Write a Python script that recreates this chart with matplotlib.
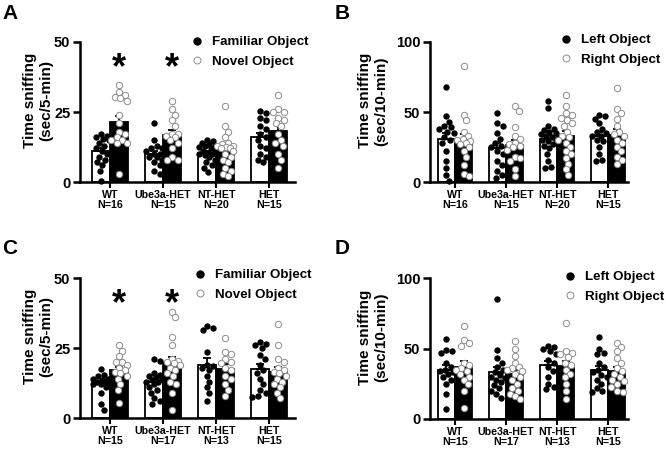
import numpy as np
import matplotlib
matplotlib.use('Agg')
import matplotlib.pyplot as plt
from matplotlib.lines import Line2D

plt.rcParams['font.family'] = ['Liberation Sans', 'DejaVu Sans']
plt.rcParams['font.weight'] = 'bold'
plt.rcParams['axes.labelweight'] = 'bold'

groups = ['WT', 'Ube3a-HET', 'NT-HET', 'HET']

# panel A: novel object recognition, familiar vs novel (sec/5-min)
a_fam = [[17, 16.5, 16, 15.5, 15, 14, 13, 12, 11, 10, 9, 8, 7, 6, 4, 0.5],
         [21, 15, 13, 12, 12, 11, 10, 10, 9, 9, 8, 7, 6, 4, 3],
         [15, 14.5, 14, 13.5, 13, 13, 12.5, 12, 11, 11, 10.5, 10, 10, 9.5, 9, 8, 7, 6, 5, 3.5],
         [25.5, 24.5, 23, 22, 20, 19, 17, 16, 15, 13, 12, 10, 9, 8, 7]]
a_nov = [[34.5, 32, 31, 30.5, 30, 29, 24, 21, 18, 17, 16, 15, 15, 14, 14, 3],
         [29, 26, 24, 22, 20, 17, 17, 16.5, 16, 15, 14, 12, 9, 8, 8],
         [27, 20, 18, 16, 14, 13.5, 13, 13, 12.5, 12, 12, 11, 10, 9, 8, 7, 5, 4, 3, 2],
         [31, 26, 25, 25, 23, 22, 21, 20, 17, 15, 14, 13, 10, 8, 5]]

# panel B: training, left vs right (sec/10-min)
b_left = [[68, 47, 43, 40, 39, 38, 36, 35, 32, 30, 28, 22, 15, 10, 5, 1],
          [49, 42, 40, 35, 31, 28, 26, 25, 22, 20, 15, 12, 8, 5, 3],
          [58, 53, 40, 38, 37, 36, 35, 34, 33, 32, 31, 30, 29, 27, 26, 24, 20, 15, 11, 10],
          [48, 47, 45, 42, 38, 36, 35, 33, 33, 30, 29, 25, 20, 16, 15]]
b_right = [[83, 48, 44, 36, 33, 31, 30, 29, 28, 27, 25, 22, 18, 12, 6, 4],
           [54, 51, 39, 33, 31, 28, 27, 26, 25, 23, 18, 17, 15, 9, 4],
           [62, 54, 49, 48, 46, 44, 42, 40, 36, 33, 32, 30, 28, 25, 22, 20, 17, 13, 9, 5],
           [67, 52, 49, 45, 40, 36, 34, 33, 30, 28, 25, 22, 18, 16, 13]]

# panel C
c_fam = [[17.5, 15.5, 15, 14, 14, 13.5, 13, 13, 12.5, 12, 12, 11, 9, 5, 3],
         [21, 20.5, 16, 15.5, 15, 14.5, 14, 13.5, 13, 13, 12, 11, 10, 9, 7, 6, 5],
         [33, 32, 31.5, 23.5, 19, 18.5, 18, 17, 15, 13, 11, 9, 6],
         [27, 26.5, 26, 25, 22.5, 21, 19, 17, 16, 14, 12, 10, 9, 8, 7.5]]
c_nov = [[26, 24, 22, 20, 20, 19, 18, 17, 16.5, 16, 15, 14, 12, 10, 5.5],
         [38, 36, 29, 26, 21, 20.5, 20, 19.5, 19, 18, 17, 16, 15, 13, 12, 9, 3],
         [28.5, 23.5, 23, 21, 20, 19.5, 18, 17, 15, 14, 12, 10, 8],
         [33.5, 26, 21, 20, 18, 17, 16.5, 16, 15, 14, 13, 12, 11, 9, 7]]

# panel D
d_left = [[57, 49, 48, 47, 40, 37, 35, 34, 33, 32, 30, 28, 25, 18, 7],
          [85, 49, 43, 40, 37, 35, 33, 31, 30, 29, 28, 26, 24, 22, 20, 18, 15],
          [52, 51, 50, 48, 46, 42, 40, 37, 34, 30, 25, 23, 21],
          [58, 50, 47, 46, 40, 37, 35, 33, 31, 30, 28, 25, 22, 20, 19]]
d_right = [[66, 56, 54, 52, 40, 38, 36, 35, 34, 32, 30, 28, 25, 20, 8],
           [55, 50, 45, 40, 37, 36, 35, 34, 32, 30, 28, 25, 22, 20, 18, 16, 14],
           [68, 48, 47, 46, 44, 40, 38, 35, 32, 30, 25, 20, 14],
           [54, 51, 48, 43, 40, 36, 34, 32, 30, 28, 27, 25, 23, 20, 19]]


def swarm(vals, sx, sy, d=6.0, maxw=8.0):
    # simple deterministic beeswarm, offsets in pixels -> data units
    order = np.argsort(vals)[::-1]
    cands = [0.0]
    for k in range(1, 17):
        cands += [k * 0.5, -k * 0.5]
    placed = []
    offs = np.zeros(len(vals))
    for i in order:
        y = vals[i] * sy
        best, best_d = 0.0, -1
        for c in cands:
            if abs(c) > maxw:
                continue
            dist = min([np.hypot(c - px, y - py) for px, py in placed] or [99])
            if dist >= d:
                best = c
                break
            if dist > best_d:
                best_d, best = dist, c
        placed.append((best, y))
        offs[i] = best / sx
    return offs


def panel(ax, fam, nov, ymax, ylab, stars, xlim, labx):
    w = 0.34
    sx = 53.0
    sy = 140.0 / ymax
    for i in range(4):
        for j, vals in enumerate([fam[i], nov[i]]):
            v = np.array(vals, dtype=float)
            m = v.mean()
            se = v.std(ddof=1) / np.sqrt(len(v))
            xc = i - w / 2 + j * w
            ax.bar(xc, m, width=w, color='white' if j == 0 else 'black',
                   edgecolor='black', linewidth=1.3, zorder=1)
            ax.errorbar(xc, m, yerr=[[0], [se]], color='black', capsize=3,
                        elinewidth=1.3, capthick=1.3, zorder=2)
            offs = swarm(v, sx, sy)
            if j == 0:
                ax.scatter(xc + offs, v, s=21, color='black', linewidths=0,
                           zorder=3, clip_on=False)
            else:
                ax.scatter(xc + offs, v, s=21, facecolor='white', edgecolor='#8c8c8c',
                           linewidths=0.7, zorder=3, clip_on=False)
    for i in stars:
        ax.text(i + w / 2, ymax * 0.81, '*', fontsize=26, ha='center', va='center')
    ax.set_xlim(*xlim)
    ax.set_ylim(0, ymax)
    ax.set_yticks([0, ymax / 2, ymax])
    ax.set_yticklabels(['0', f'{ymax // 2}', f'{ymax}'], fontsize=10.5)
    ax.set_xticks(range(4))
    ax.set_xticklabels([f'{g}\nN={len(fam[k])}' for k, g in enumerate(groups)],
                       fontsize=7.7, linespacing=0.98)
    ax.set_ylabel(ylab, fontsize=11, linespacing=1.2)
    ax.yaxis.set_label_coords(labx, 0.58)
    for s in ['top', 'right']:
        ax.spines[s].set_visible(False)
    for s in ['left', 'bottom']:
        ax.spines[s].set_linewidth(1.8)
    ax.tick_params(axis='y', direction='out', length=5, width=1.8, pad=2)
    ax.tick_params(axis='x', direction='out', length=4, width=1.5, pad=2)
    h = [Line2D([], [], marker='o', ls='', color='black', markersize=5),
         Line2D([], [], marker='o', ls='', markerfacecolor='white',
                markeredgecolor='#8c8c8c', markeredgewidth=0.7, markersize=5)]
    return h


fig = plt.figure(figsize=(6.66, 4.5), dpi=100)
W, H = 666.0, 450.0


def add_ax(l, t, r, b):
    return fig.add_axes([l / W, 1 - b / H, (r - l) / W, (b - t) / H])


axA = add_ax(80, 42, 295, 182)
axB = add_ax(430, 42, 628, 182)
axC = add_ax(80, 278, 295, 418)
axD = add_ax(430, 278, 628, 419)

lab5 = 'Time sniffing\n(sec/5-min)'
lab10 = 'Time sniffing\n(sec/10-min)'
hA = panel(axA, a_fam, a_nov, 50, lab5, [0, 1], (-0.57, 3.49), -0.126)
hB = panel(axB, b_left, b_right, 100, lab10, [], (-0.49, 3.39), -0.212)
hC = panel(axC, c_fam, c_nov, 50, lab5, [0, 1], (-0.57, 3.49), -0.126)
hD = panel(axD, d_left, d_right, 100, lab10, [], (-0.49, 3.39), -0.212)


def legend(ax, h, labels, mx, my):
    fs = 9.6
    em = fs * 100 / 72
    ax.legend(h, labels, loc='upper left', frameon=False, fontsize=fs,
              borderpad=0, borderaxespad=0, handlelength=1.0, handletextpad=0.6,
              labelspacing=0.55,
              bbox_to_anchor=((mx - em * 0.5) / W, 1 - (my - em * 0.6) / H),
              bbox_transform=fig.transFigure)


legend(axA, hA, ['Familiar Object', 'Novel Object'], 197, 44)
legend(axB, hB, ['Left Object', 'Right Object'], 566, 42)
legend(axC, hC, ['Familiar Object', 'Novel Object'], 200, 277)
legend(axD, hD, ['Left Object', 'Right Object'], 570, 279)

for letter, x, y in [('A', 2, 4), ('B', 335, 4), ('C', 2, 239), ('D', 335, 239)]:
    fig.text(x / W, 1 - y / H, letter, fontsize=15, fontweight='bold', va='top')

fig.savefig('out.png', dpi=100)
